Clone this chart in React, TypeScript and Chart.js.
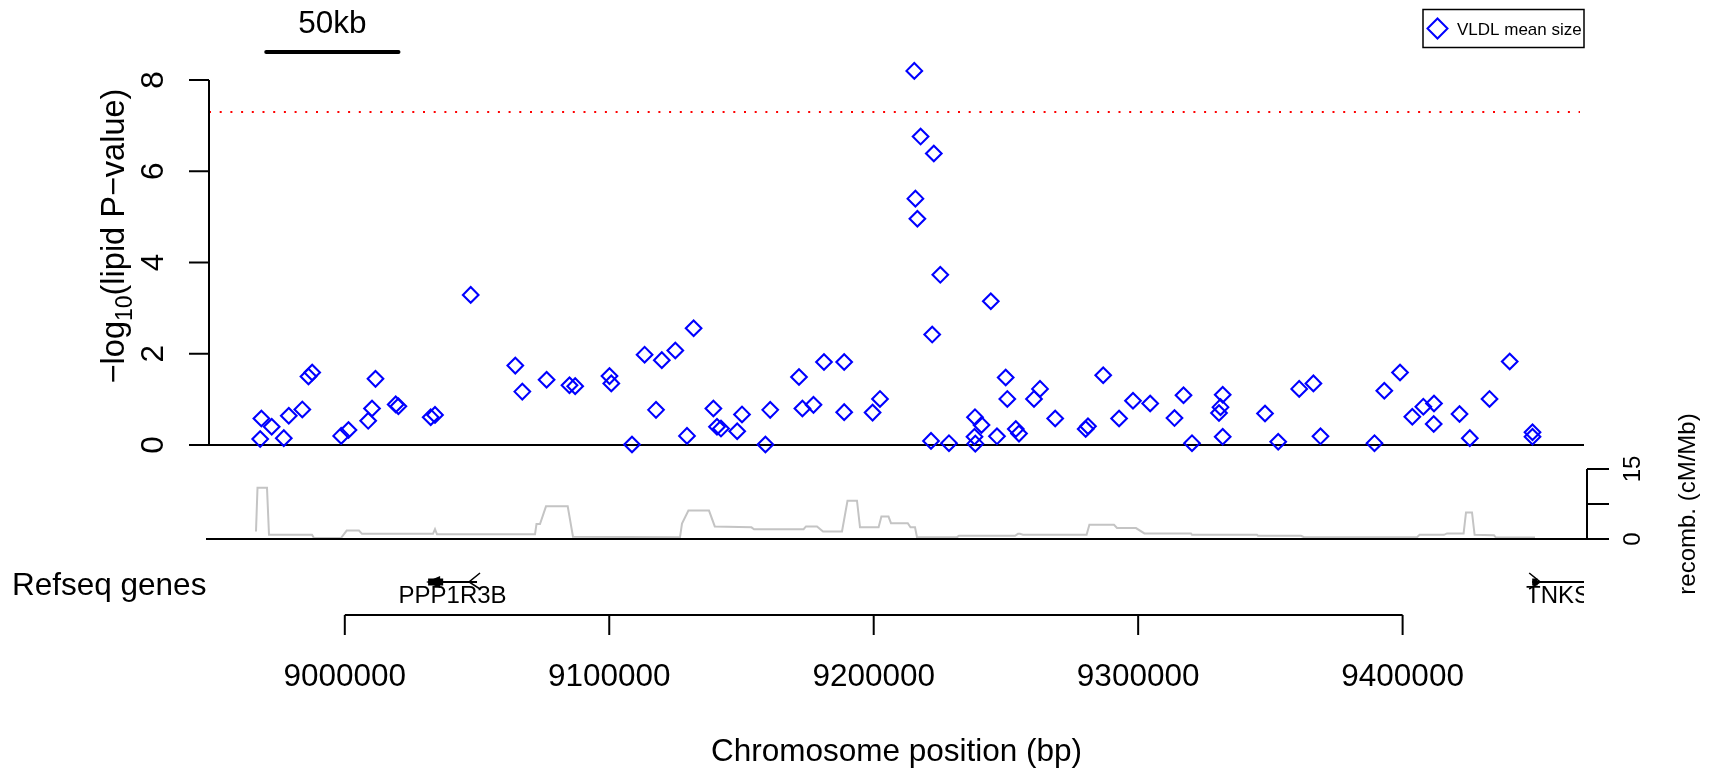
import React, { useEffect, useRef } from "react";
import { Chart, registerables } from "chart.js";

Chart.register(...registerables);

const FONT = '"Liberation Sans", Arial, Helvetica, sans-serif';

// ---- data ----
const snpPositions = [
  8968010, 8968460, 8972360, 8976930, 8978820, 8983930, 8986270, 8987670, 8998640, 9001400,
  9008850, 9010290, 9011610, 9019250, 9020270, 9032480, 9034110, 9047610, 9064470, 9067120,
  9076310, 9084970, 9087120, 9100090, 9100770, 9108600, 9113370, 9117680, 9119870, 9124980,
  9129400, 9131900, 9139380, 9140740, 9142250, 9148380, 9150200, 9159050, 9160860, 9171750,
  9173040, 9177230, 9181200, 9188840, 9188840, 9199580, 9202380, 9215350, 9215770, 9216520,
  9217730, 9221670, 9222120, 9222730, 9225180, 9228470, 9238120, 9238300, 9238420, 9240760,
  9244280, 9246620, 9249910, 9250520, 9253730, 9254940, 9260610, 9262880, 9268630, 9280160,
  9281030, 9286780, 9292790, 9298050, 9304550, 9313740, 9317150, 9320360, 9330570, 9331140,
  9331970, 9331970, 9347970, 9352960, 9360900, 9366270, 9368950, 9389370, 9393080, 9399020,
  9403670, 9407830, 9411760, 9411870, 9421520, 9425410, 9432860, 9440500, 9449120, 9449120,
];
const snpLogP = [
  0.13, 0.58, 0.40, 0.15, 0.64, 0.78, 1.50, 1.59, 0.20, 0.33,
  0.53, 0.80, 1.45, 0.89, 0.85, 0.61, 0.66, 3.29, 1.74, 1.17,
  1.43, 1.31, 1.29, 1.51, 1.35, 0.01, 1.98, 0.77, 1.86, 2.07,
  0.20, 2.56, 0.80, 0.40, 0.36, 0.30, 0.67, 0.01, 0.77, 1.49,
  0.80, 0.88, 1.82, 1.82, 0.72, 0.71, 1.01, 8.20, 5.40, 4.96,
  6.76, 0.09, 2.42, 6.39, 3.73, 0.04, 0.18, 0.61, 0.03, 0.44,
  3.15, 0.19, 1.48, 1.01, 0.35, 0.25, 1.01, 1.23, 0.58, 0.35,
  0.41, 1.53, 0.58, 0.97, 0.91, 0.59, 1.09, 0.04, 0.70, 0.83,
  1.10, 0.18, 0.69, 0.07, 1.23, 1.35, 0.19, 0.04, 1.19, 1.59,
  0.62, 0.84, 0.46, 0.91, 0.68, 0.15, 1.01, 1.83, 0.28, 0.18,
];
const recombPositions = [
  8966420, 8966990, 8970580, 8971340, 8987600, 8988350, 8998560, 9000720, 9005370, 9006500,
  9033350, 9034110, 9034860, 9071920, 9072490, 9073810, 9076080, 9084290, 9086290, 9126750,
  9127510, 9129930, 9137720, 9139910, 9153790, 9154735, 9173490, 9174400, 9178560, 9180830,
  9188010, 9190090, 9193680, 9194820, 9201850, 9202910, 9205600, 9206540, 9212890, 9213910,
  9215620, 9216370, 9231500, 9232250, 9253430, 9254560, 9255320, 9256450, 9280500, 9281560,
  9290870, 9292000, 9299180, 9302360, 9319980, 9320360, 9344940, 9345320, 9361580, 9362710,
  9405440, 9406430, 9415650, 9416790, 9423060, 9423970, 9426240, 9427220, 9434560, 9435310,
  9450070,
];
const recombRates = [
  1.6, 11.0, 11.0, 0.9, 0.9, 0.2, 0.2, 1.8, 1.8, 1.1,
  1.1, 2.1, 1.0, 1.0, 3.2, 3.2, 7.0, 7.0, 0.5, 0.35,
  3.3, 6.1, 6.1, 2.7, 2.5, 2.1, 2.1, 2.7, 2.7, 1.6,
  1.6, 8.2, 8.2, 2.5, 2.5, 4.8, 4.8, 3.4, 3.4, 2.5,
  2.5, 0.4, 0.4, 0.7, 0.7, 1.1, 1.1, 0.9, 0.9, 3.05,
  3.05, 2.35, 2.35, 1.2, 1.2, 0.9, 0.9, 0.7, 0.7, 0.4,
  0.4, 0.9, 0.9, 1.2, 1.2, 5.7, 5.7, 0.9, 0.8, 0.3,
  0.3,
];
const yTickValues = [0, 2, 4, 6, 8];
const xTickValues = [9000000, 9100000, 9200000, 9300000, 9400000];
const recombTickValues = [0, 7.5, 15];
const recombTickLabels = ["0", "", "15"];
const geneNames = ["PPP1R3B", "TNKS"];
const geneStarts = [9031500, 9449000];
const geneEnds = [9050000, 9468590];
const geneStrands = [-1, 1];
const geneExonEnds = [9037200, 9451000];
const seriesLabel = "VLDL mean size";
const significanceLine = 7.3;
const scaleBarStart = 8970300;
const scaleBarLength = 50000;
const scaleBarLabel = "50kb";
const xMin = 8948650;
const xMax = 9468590;
const yMax = 8;
const recombMax = 15;

const W = 1713;
const H = 773;
const PLOT_LEFT = 209;
const PLOT_RIGHT = 1584;
const MAIN_TOP = 80;
const MAIN_BOTTOM = 445;
const REC_TOP = 469;
const REC_BOTTOM = 539;

function seg(ctx: CanvasRenderingContext2D, x1: number, y1: number, x2: number, y2: number) {
  ctx.beginPath();
  ctx.moveTo(x1, y1);
  ctx.lineTo(x2, y2);
  ctx.stroke();
}

function rotatedText(ctx: CanvasRenderingContext2D, text: string, x: number, y: number, size: number) {
  ctx.save();
  ctx.translate(x, y);
  ctx.rotate(-Math.PI / 2);
  ctx.font = `${size}px ${FONT}`;
  ctx.textAlign = "center";
  ctx.textBaseline = "alphabetic";
  ctx.fillText(text, 0, 0);
  ctx.restore();
}

const mainDecor = {
  id: "mainDecor",
  beforeDatasetsDraw(chart: any) {
    const ctx: CanvasRenderingContext2D = chart.ctx;
    const ys = chart.scales.y;
    const { left, right } = chart.chartArea;
    ctx.save();
    // significance line
    ctx.strokeStyle = "#ff0000";
    ctx.lineWidth = 2;
    ctx.setLineDash([2, 8.7]);
    const sy = ys.getPixelForValue(significanceLine);
    seg(ctx, left, sy, right - 4, sy);
    ctx.setLineDash([]);
    // y axis
    ctx.strokeStyle = "#000";
    ctx.lineWidth = 2;
    seg(ctx, left, ys.getPixelForValue(yMax), left, ys.getPixelForValue(0));
    for (const v of yTickValues) {
      const py = ys.getPixelForValue(v);
      seg(ctx, left - 20, py, left, py);
    }
    // zero line
    const y0 = ys.getPixelForValue(0);
    seg(ctx, left, y0, right, y0);
    ctx.restore();
  },
  afterDraw(chart: any) {
    const ctx: CanvasRenderingContext2D = chart.ctx;
    const xs = chart.scales.x;
    const ys = chart.scales.y;
    const { left, right } = chart.chartArea;
    ctx.save();
    ctx.fillStyle = "#000";
    ctx.strokeStyle = "#000";
    // y tick labels
    for (const v of yTickValues) {
      rotatedText(ctx, String(v), 163, ys.getPixelForValue(v), 31.5);
    }
    // y axis title with subscript
    ctx.save();
    ctx.translate(124, 236);
    ctx.rotate(-Math.PI / 2);
    ctx.textBaseline = "alphabetic";
    ctx.textAlign = "left";
    const big = `32.5px ${FONT}`;
    const small = `23px ${FONT}`;
    const parts: [string, string, number][] = [
      ["\u2212log", big, 0],
      ["10", small, 8],
      ["(lipid P\u2212value)", big, 0],
    ];
    let total = 0;
    for (const p of parts) {
      ctx.font = p[1];
      total += ctx.measureText(p[0]).width;
    }
    let cx = -total / 2;
    for (const p of parts) {
      ctx.font = p[1];
      ctx.fillText(p[0], cx, p[2]);
      cx += ctx.measureText(p[0]).width;
    }
    ctx.restore();

    // scale bar
    const sb1 = xs.getPixelForValue(scaleBarStart);
    const sb2 = xs.getPixelForValue(scaleBarStart + scaleBarLength);
    ctx.lineWidth = 4;
    ctx.lineCap = "round";
    seg(ctx, sb1, 52, sb2, 52);
    ctx.lineCap = "butt";
    ctx.font = `31.5px ${FONT}`;
    ctx.textAlign = "center";
    ctx.fillText(scaleBarLabel, (sb1 + sb2) / 2, 33);

    // legend
    ctx.lineWidth = 1.5;
    ctx.strokeRect(1423, 9.5, right - 1423, 38);
    ctx.strokeStyle = "#0000ff";
    ctx.lineWidth = 2;
    ctx.beginPath();
    ctx.moveTo(1437.5 - 10, 28.5);
    ctx.lineTo(1437.5, 18.5);
    ctx.lineTo(1437.5 + 10, 28.5);
    ctx.lineTo(1437.5, 38.5);
    ctx.closePath();
    ctx.stroke();
    ctx.fillStyle = "#000";
    ctx.font = `17px ${FONT}`;
    ctx.textAlign = "left";
    ctx.fillText(seriesLabel, 1457, 35);

    // Refseq genes label
    ctx.font = `31.5px ${FONT}`;
    ctx.textAlign = "left";
    ctx.fillText("Refseq genes", 12, 595);

    // genes (clipped to plot region)
    ctx.save();
    ctx.beginPath();
    ctx.rect(left, 550, right - left, 80);
    ctx.clip();
    const gy = 582;
    ctx.strokeStyle = "#000";
    ctx.fillStyle = "#000";
    for (let i = 0; i < geneNames.length; i++) {
      const gs = xs.getPixelForValue(geneStarts[i]);
      const ge = xs.getPixelForValue(geneEnds[i]);
      const ex = xs.getPixelForValue(geneExonEnds[i]);
      ctx.lineWidth = 2;
      seg(ctx, gs, gy, ge, gy);
      ctx.fillRect(Math.min(gs, ex), gy - 3.5, Math.abs(ex - gs), 7);
      const strand = geneStrands[i];
      const tss = strand > 0 ? gs : ge;
      ctx.lineWidth = 1.5;
      ctx.beginPath();
      ctx.moveTo(tss - strand * 3, gy - 9);
      ctx.lineTo(tss + strand * 8, gy);
      ctx.lineTo(tss - strand * 3, gy + 7);
      ctx.stroke();
      if (strand < 0) {
        ctx.beginPath();
        ctx.moveTo(gs - 2, gy);
        ctx.lineTo(gs + 12, gy - 6);
        ctx.lineTo(gs + 12, gy + 6);
        ctx.closePath();
        ctx.fill();
      }
      ctx.font = `24px ${FONT}`;
      ctx.textAlign = "center";
      ctx.fillText(geneNames[i], (gs + ge) / 2, 603);
    }
    ctx.restore();

    // x axis at bottom
    ctx.lineWidth = 2;
    ctx.strokeStyle = "#000";
    const xa = xs.getPixelForValue(xTickValues[0]);
    const xb = xs.getPixelForValue(xTickValues[xTickValues.length - 1]);
    seg(ctx, xa, 615, xb, 615);
    ctx.font = `31.5px ${FONT}`;
    ctx.textAlign = "center";
    for (const v of xTickValues) {
      const px = xs.getPixelForValue(v);
      seg(ctx, px, 615, px, 635);
      ctx.fillText(String(v), px, 686);
    }
    ctx.fillText("Chromosome position (bp)", (left + right) / 2, 761);
    ctx.restore();
  },
};

const recombDecor = {
  id: "recombDecor",
  afterDraw(chart: any) {
    const ctx: CanvasRenderingContext2D = chart.ctx;
    const ys = chart.scales.y;
    const { left, right } = chart.chartArea;
    ctx.save();
    ctx.strokeStyle = "#000";
    ctx.fillStyle = "#000";
    ctx.lineWidth = 2;
    const yb = ys.getPixelForValue(0);
    seg(ctx, left - 3, yb, right + 3, yb);
    const ax = right + 3;
    seg(ctx, ax, ys.getPixelForValue(recombMax), ax, ys.getPixelForValue(0));
    for (let i = 0; i < recombTickValues.length; i++) {
      const py = ys.getPixelForValue(recombTickValues[i]);
      seg(ctx, ax, py, ax + 22, py);
      if (recombTickLabels[i]) rotatedText(ctx, recombTickLabels[i], 1640, py, 24);
    }
    rotatedText(ctx, "recomb. (cM/Mb)", 1695, (ys.getPixelForValue(0) + ys.getPixelForValue(recombMax)) / 2, 24);
    ctx.restore();
  },
};

export default function App() {
  const mainRef = useRef<HTMLCanvasElement | null>(null);
  const recRef = useRef<HTMLCanvasElement | null>(null);

  useEffect(() => {
    const mainChart = new Chart(mainRef.current as HTMLCanvasElement, {
      type: "scatter",
      data: {
        datasets: [
          {
            label: seriesLabel,
            data: snpPositions.map((x, i) => ({ x, y: snpLogP[i] })),
            pointStyle: "rectRot",
            pointRadius: 7.8,
            pointBorderWidth: 2.1,
            pointBorderColor: "#0000ff",
            pointBackgroundColor: "rgba(0,0,0,0)",
            clip: false,
          } as any,
        ],
      },
      options: {
        responsive: false,
        animation: false,
        devicePixelRatio: 1,
        events: [],
        layout: { padding: { left: PLOT_LEFT, right: W - PLOT_RIGHT, top: MAIN_TOP, bottom: H - MAIN_BOTTOM } },
        scales: {
          x: { type: "linear", min: xMin, max: xMax, display: false },
          y: { type: "linear", min: 0, max: yMax, display: false },
        },
        plugins: { legend: { display: false }, tooltip: { enabled: false } },
      },
      plugins: [mainDecor],
    });

    const recChart = new Chart(recRef.current as HTMLCanvasElement, {
      type: "line",
      data: {
        datasets: [
          {
            data: recombPositions.map((x, i) => ({ x, y: recombRates[i] })),
            borderColor: "#c4c4c4",
            borderWidth: 2,
            pointRadius: 0,
            tension: 0,
            fill: false,
            clip: false,
          } as any,
        ],
      },
      options: {
        responsive: false,
        animation: false,
        devicePixelRatio: 1,
        events: [],
        layout: { padding: { left: PLOT_LEFT, right: W - PLOT_RIGHT, top: REC_TOP, bottom: H - REC_BOTTOM } },
        scales: {
          x: { type: "linear", min: xMin, max: xMax, display: false },
          y: { type: "linear", min: 0, max: recombMax, display: false },
        },
        plugins: { legend: { display: false }, tooltip: { enabled: false } },
      },
      plugins: [recombDecor],
    });

    return () => {
      mainChart.destroy();
      recChart.destroy();
    };
  }, []);

  const style: React.CSSProperties = { position: "absolute", left: 0, top: 0, width: W, height: H };
  return (
    <div style={{ position: "absolute", left: 0, top: 0, width: W, height: H, background: "#fff" }}>
      <canvas ref={mainRef} width={W} height={H} style={style} />
      <canvas ref={recRef} width={W} height={H} style={style} />
    </div>
  );
}
